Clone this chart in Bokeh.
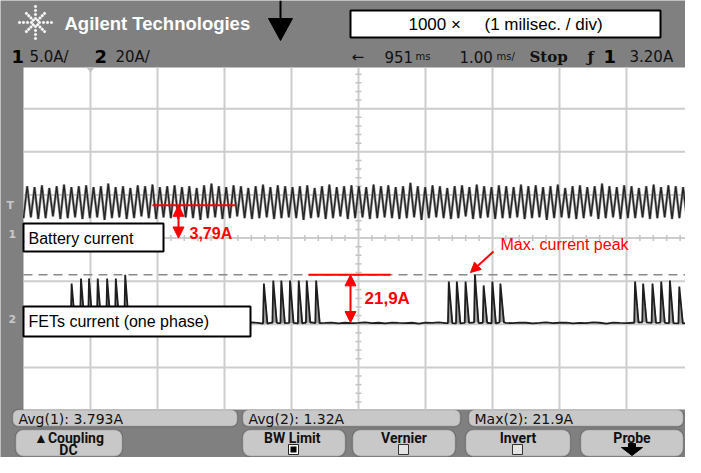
import math
from bokeh.plotting import figure
from bokeh.models import Range1d, Arrow, NormalHead, BoxAnnotation
from bokeh.core.properties import value
from bokeh.embed import file_html
from bokeh.resources import INLINE

# ---------------- scope settings / readings ----------------
ms_per_div = 1.0
delay_ms = 951
ch1_a_per_div = 5.0
ch2_a_per_div = 20.0
ch1_zero_div = 0.0
ch2_zero_div = -1.95
trig_level_a = 3.20
avg1_a = 3.793
avg2_a = 1.32
max2_a = 21.9

# battery current (channel 1): one peak / trough per ripple cycle
bat_period_ms = 0.11
bat_peaks_a = [6.0, 5.9, 6.1, 5.8, 6.0, 6.2, 5.9, 6.0, 6.1, 5.9,
               6.0, 6.3, 5.9, 6.0, 5.8, 6.1, 6.0, 6.2, 5.9, 6.0,
               6.1, 5.9, 6.0, 5.8, 6.1, 6.3, 6.0, 5.9, 6.1, 6.0,
               5.8, 6.0, 6.2, 5.9, 6.1, 6.0, 5.9, 6.0, 6.1, 5.8,
               6.0, 6.2, 5.9, 6.0, 6.1, 6.0, 5.9, 6.2, 6.0, 6.1,
               5.9, 6.0, 6.4, 6.0, 5.9, 6.1, 6.0, 5.8, 6.0, 6.1,
               5.9, 6.2, 6.0, 5.9, 6.1, 6.0, 5.9, 6.2, 6.0, 6.1,
               5.9, 6.0, 6.2, 5.8, 6.0, 6.1, 5.9, 6.0, 6.3, 6.0,
               5.9, 6.1, 6.0, 5.8, 6.0, 6.2, 5.9, 6.1, 6.0, 5.9,
               6.1, 6.2]
bat_troughs_a = [2.3, 2.4, 2.2, 2.3, 2.5, 2.2, 2.3, 2.4, 2.2, 2.3,
                 2.4, 2.1, 2.3, 2.4, 2.2, 2.3, 2.5, 2.3, 2.2, 2.4,
                 2.3, 2.2, 2.4, 2.3, 2.1, 2.3, 2.4, 2.2, 2.3, 2.5,
                 2.3, 2.2, 2.3, 2.4, 2.2, 2.3, 2.4, 2.3, 2.1, 2.3,
                 2.4, 2.2, 2.3, 2.5, 2.2, 2.3, 2.4, 2.2, 2.3, 2.4,
                 2.3, 2.2, 2.3, 2.4, 2.1, 2.3, 2.4, 2.3, 2.2, 2.3,
                 2.5, 2.2, 2.3, 2.4, 2.2, 2.3, 2.3, 2.4, 2.2, 2.3,
                 2.4, 2.1, 2.3, 2.4, 2.3, 2.2, 2.3, 2.5, 2.2, 2.3,
                 2.4, 2.2, 2.3, 2.3, 2.4, 2.2, 2.3, 2.4, 2.2, 2.3,
                 2.3, 2.4]

# FET current (channel 2): pulse times (ms from screen centre) and peaks
fet_pulse_t_ms = [-4.29, -4.15, -4.03, -3.90, -3.76, -3.63, -3.49,
                  -1.42, -1.28, -1.16, -1.03, -0.90, -0.78, -0.64,
                  1.34, 1.46, 1.59, 1.73, 1.86, 1.99, 2.11,
                  4.12, 4.24, 4.38, 4.51, 4.64, 4.78, 4.90]
fet_pulse_peak_a = [17.9, 20.2, 20.2, 20.2, 20.2, 20.2, 21.9,
                    17.9, 19.3, 19.3, 19.3, 19.3, 19.3, 19.3,
                    18.8, 18.8, 18.8, 21.9, 17.0, 18.8, 17.9,
                    18.8, 17.9, 17.9, 18.8, 19.3, 16.5, 9.1]
fet_base_step_ms = 0.1
fet_base_a = [-0.4, -0.1, -0.6, -0.3, -0.5, 0.0, -0.4, -0.7, -0.2, -0.5,
              -0.3, -0.6, -0.1, -0.4, -0.5, -0.2, -0.6, -0.3, -0.4, -0.1,
              -0.5, -0.3, -0.7, -0.2, -0.4, -0.5, -0.1, -0.6, -0.3, -0.4,
              -0.2, -0.5, -0.3, -0.6, -0.1, -0.4, -0.7, -0.3, -0.5, -0.2,
              -0.4, -0.6, -0.3, -0.1, -0.5, -0.4, -0.2, -0.6, -0.3, -0.5,
              -0.4, -0.1, -0.5, -0.3, -0.6, -0.2, -0.4, -0.5, -0.3, -0.7,
              -0.2, -0.4, -0.1, -0.5, -0.3, -0.6, -0.4, -0.2, -0.5, -0.3,
              -0.6, -0.1, -0.4, -0.5, -0.2, -0.3, -0.6, -0.4, -0.1, -0.5,
              -0.3, -0.2, -0.6, -0.4, -0.5, -0.1, -0.3, -0.7, -0.2, -0.4,
              -0.5, -0.3, -0.1, -0.6, -0.4, -0.2, -0.5, -0.3, -0.6, -0.4,
              -0.2]

# ---------------- page geometry (reference pixels -> divisions) ----------------
CX, CY = 358.0, 237.5
PDX, PDY = 67.0, 43.125


def X(px):
    return (px - CX) / PDX


def Y(py):
    return (CY - py) / PDY


W, H = 685, 457
p = figure(width=W, height=H, x_range=Range1d(X(0), X(W)), y_range=Range1d(Y(H), Y(0)),
           x_axis_type=None, y_axis_type=None, toolbar_location=None, output_backend="svg",
           min_border=0, title=None, background_fill_color="#808080",
           border_fill_color="#808080", outline_line_color=None)

SANS = value("Liberation Sans")
SCOPE = value("DejaVu Sans")
NB = "\u00a0"

# screen
SCR_R = 693
p.quad(left=[X(23)], right=[X(SCR_R)], top=[Y(67)], bottom=[Y(409)], fill_color="white", line_color=None)
gx = [k for k in range(-4, 5)]
p.segment(x0=gx, y0=[Y(67)] * len(gx), x1=gx, y1=[Y(409)] * len(gx), line_color="#cdcdcd", line_width=2)
gy = [k for k in range(-3, 4)]
p.segment(x0=[X(23)] * len(gy), y0=gy, x1=[X(SCR_R)] * len(gy), y1=gy, line_color="#cdcdcd", line_width=2)
# centre ticks
tx = [-5 + 0.2 * j for j in range(1, 50) if j % 5]
p.segment(x0=tx, y0=[-3 / PDY] * len(tx), x1=tx, y1=[3 / PDY] * len(tx), line_color="#c4c4c4", line_width=1.5)
ty = [-4 + 0.2 * j for j in range(1, 40) if j % 5]
p.segment(x0=[-3 / PDX] * len(ty), y0=ty, x1=[3 / PDX] * len(ty), y1=ty, line_color="#c4c4c4", line_width=1.5)
# trigger position marker at top
p.patch(x=[X(86), X(94), X(90)], y=[Y(67), Y(67), Y(72)], fill_color="#c4c4c4", line_color=None)

# max cursor (channel 2)
ycur = max2_a / ch2_a_per_div + ch2_zero_div
p.segment(x0=[X(23)], y0=[ycur], x1=[X(SCR_R)], y1=[ycur], line_color="#8a8a8a", line_width=1.5, line_dash="9 6")

# battery trace
bt, bv = [], []
n = min(len(bat_peaks_a), len(bat_troughs_a))
for i in range(n):
    t0 = -5 + i * bat_period_ms
    for tt, vv in ((t0, bat_troughs_a[i]), (t0 + bat_period_ms / 2, bat_peaks_a[i])):
        if tt <= 5:
            bt.append(tt)
            bv.append(vv / ch1_a_per_div + ch1_zero_div)
p.line(bt, bv, line_color="#8f8f8f", line_width=2.6)
p.line(bt, bv, line_color="#222222", line_width=1.3)

# FET trace
base_t = [-5 + i * fet_base_step_ms for i in range(len(fet_base_a))]
pts = []
for tt, a in zip(base_t, fet_base_a):
    if not any(pt - 0.01 < tt < pt + 0.07 for pt in fet_pulse_t_ms):
        pts.append((tt, a))
px_, py_ = [], []
for k, (pt, pk) in enumerate(zip(fet_pulse_t_ms, fet_pulse_peak_a)):
    b = fet_base_a[min(len(fet_base_a) - 1, int(round((pt + 5) / fet_base_step_ms)))]
    pts += [(pt - 0.005, b), (pt + 0.008, pk), (pt + 0.06, b)]
    px_.append([pt - 0.005, pt + 0.008, pt + 0.075])
    py_.append([b / ch2_a_per_div + ch2_zero_div, pk / ch2_a_per_div + ch2_zero_div,
                b / ch2_a_per_div + ch2_zero_div])
pts.sort()
ft = [q[0] for q in pts]
fv = [q[1] / ch2_a_per_div + ch2_zero_div for q in pts]
p.patches(px_, py_, fill_color="#a0a0a0", line_color=None)
p.line(ft, fv, line_color="#1e1e1e", line_width=1.8)

# label boxes
p.quad(left=[X(23), X(23)], right=[X(163), X(250)], top=[Y(223), Y(306)], bottom=[Y(251), Y(336)],
       fill_color="white", line_color="black", line_width=2)
p.text(x=[X(28), X(28)], y=[Y(238), Y(321)], text=["Battery current", "FETs current (one phase)"],
       text_font=SANS, text_font_size="16px", text_baseline="middle", text_color="black")

# red annotations
RED = "#ff0000"
yavg = avg1_a / ch1_a_per_div + ch1_zero_div
p.segment(x0=[X(152)], y0=[yavg], x1=[X(235)], y1=[yavg], line_color=RED, line_width=2)
p.add_layout(Arrow(x_start=X(178), y_start=ch1_zero_div, x_end=X(178), y_end=yavg,
                   start=NormalHead(size=11, fill_color=RED, line_color=RED),
                   end=NormalHead(size=11, fill_color=RED, line_color=RED), line_color=RED, line_width=2))
p.text(x=[X(189)], y=[Y(233)], text=["3,79A"], text_font=SANS, text_font_style="bold",
       text_font_size="16px", text_baseline="middle", text_color=RED)
p.segment(x0=[X(308)], y0=[ycur], x1=[X(390)], y1=[ycur], line_color=RED, line_width=2)
p.add_layout(Arrow(x_start=X(350), y_start=ch2_zero_div - 0.01, x_end=X(350), y_end=ycur,
                   start=NormalHead(size=11, fill_color=RED, line_color=RED),
                   end=NormalHead(size=11, fill_color=RED, line_color=RED), line_color=RED, line_width=2))
p.text(x=[X(364)], y=[Y(298)], text=["21,9A"], text_font=SANS, text_font_style="bold",
       text_font_size="17px", text_baseline="middle", text_color=RED)
p.text(x=[X(500)], y=[Y(244)], text=["Max. current peak"], text_font=SANS,
       text_font_size="16px", text_baseline="middle", text_color=RED)
p.add_layout(Arrow(x_start=X(493), y_start=Y(251), x_end=X(470), y_end=Y(272),
                   end=NormalHead(size=10, fill_color=RED, line_color=RED), line_color=RED, line_width=2))

# header
lx, ly = 35, 22
for ang in range(0, 360, 45):
    for r in (4, 8, 12, 16):
        rr = r if ang % 90 == 0 else r * 0.8
        p.scatter([X(lx + rr * math.cos(math.radians(ang)))], [Y(ly + rr * math.sin(math.radians(ang)))],
                  size=2.2, color="white", marker="circle")
p.text(x=[X(64)], y=[Y(23)], text=["Agilent Technologies"], text_font=SANS, text_font_style="bold",
       text_font_size="18.5px", text_baseline="middle", text_color="white")
p.segment(x0=[X(280)], y0=[Y(0)], x1=[X(280)], y1=[Y(19)], line_color="black", line_width=2)
p.patch(x=[X(268), X(292), X(280)], y=[Y(18), Y(18), Y(40)], fill_color="black", line_color="black")
p.quad(left=[X(350)], right=[X(660)], top=[Y(10)], bottom=[Y(37)], fill_color="white",
       line_color="black", line_width=2)
p.text(x=[X(505)], y=[Y(24)], text=["1000" + NB + "\u00d7" + NB * 5 + "(1 milisec. / div)"], text_font=SANS,
       text_font_size="17px", text_baseline="middle", text_align="center", text_color="black")

# status line
row = Y(56)
p.text(x=[X(11), X(94), X(603)], y=[row] * 3, text=["1", "2", "1"], text_font=SCOPE,
       text_font_style="bold", text_font_size="18px", text_baseline="middle", text_color="black")
p.text(x=[X(29), X(115), X(351), X(384), X(459), X(629)], y=[row] * 6,
       text=["%.1fA/" % ch1_a_per_div, "%dA/" % ch2_a_per_div, "\u2190", "%d" % delay_ms,
             "%.2f" % ms_per_div, "%.2fA" % trig_level_a],
       text_font=SCOPE, text_font_size="15px", text_baseline="middle", text_color="#111111")
p.text(x=[X(415), X(496)], y=[row] * 2, text=["ms", "ms/"], text_font=SCOPE, text_font_size="10px",
       text_baseline="middle", text_color="#111111")
p.text(x=[X(529), X(587)], y=[row] * 2, text=["Stop", "\u0192"], text_font=value("DejaVu Serif"),
       text_font_style="bold", text_font_size="15px", text_baseline="middle", text_color="#111111")

# left markers
p.text(x=[X(6), X(8), X(8)], y=[Y(205), Y(233), Y(318)], text=["T", "1", "2"], text_font=SCOPE,
       text_font_style="bold", text_font_size="11px", text_baseline="middle", text_color="#c8c8c8")

# measurement bar
for l, r, txt in ((12, 237, "Avg(1): %.3fA" % avg1_a), (242, 460, "Avg(2): %.2fA" % avg2_a),
                  (468, 683, "Max(2): %.1fA" % max2_a)):
    p.add_layout(BoxAnnotation(left=X(l), right=X(r), top=Y(409), bottom=Y(426), fill_color="#c8c8c8",
                               fill_alpha=1, line_color="#2a2a2a", line_width=1.5, border_radius=6,
                               level="underlay"))
    p.text(x=[X(l + 6)], y=[Y(418)], text=[txt], text_font=SCOPE, text_font_size="14px",
           text_baseline="middle", text_color="#111111")

# soft keys
KT, KB = 429, 456
keys = [(15, 122, "\u25b2Coupling"), (242, 345, "BW  Limit"), (352, 455, "Vernier"),
        (465, 570, "Invert"), (580, 683, "Probe")]
for l, r, txt in keys:
    p.add_layout(BoxAnnotation(left=X(l), right=X(r), top=Y(KT), bottom=Y(KB), fill_color="#c8c8c8",
                               fill_alpha=1, line_color="#2a2a2a", line_width=1.5, border_radius=8,
                               level="underlay"))
    p.text(x=[X((l + r) / 2)], y=[Y(437.5)], text=[txt], text_font=value("Roboto"), text_font_style="bold",
           text_font_size="14px", text_baseline="middle", text_align="center", text_color="#111111")
p.text(x=[X(68)], y=[Y(449.5)], text=["DC"], text_font=value("Roboto"), text_font_style="bold",
       text_font_size="14px", text_baseline="middle", text_align="center", text_color="#111111")
p.quad(left=[X(288)], right=[X(298)], top=[Y(444)], bottom=[Y(454)], fill_color="white", line_color="#222222")
p.quad(left=[X(290)], right=[X(296)], top=[Y(446)], bottom=[Y(452)], fill_color="black", line_color=None)
p.quad(left=[X(398), X(512)], right=[X(408), X(522)], top=[Y(444)] * 2, bottom=[Y(454)] * 2,
       fill_color="#e4e4e4", line_color="#333333")
p.patch(x=[X(628), X(635), X(635), X(642), X(631.5), X(621), X(628)],
        y=[Y(443), Y(443), Y(447), Y(447), Y(455), Y(447), Y(447)], fill_color="black", line_color="black")

open("out.html", "w").write(file_html(p, INLINE))
